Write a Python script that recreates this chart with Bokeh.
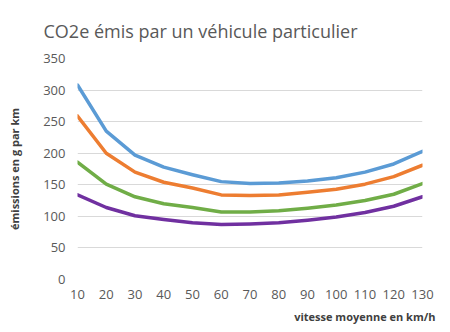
from bokeh.plotting import figure
from bokeh.models import Range1d, FixedTicker, Title
from bokeh.embed import file_html
from bokeh.resources import INLINE

speeds = [10, 20, 30, 40, 50, 60, 70, 80, 90, 100, 110, 120, 130]
serie_bleue = [308, 235, 197, 178, 166, 155, 152, 153, 156, 161, 170, 183, 203]
serie_orange = [259, 200, 170, 154, 145, 134, 133, 134, 138, 143, 151, 163, 181]
serie_verte = [186, 151, 131, 120, 114, 107, 107, 109, 113, 118, 125, 135, 152]
serie_violette = [134, 114, 101, 95, 90, 87, 88, 90, 94, 99, 106, 116, 131]
y_ticks = [0, 50, 100, 150, 200, 250, 300, 350]

FONT = "Open Sans"

p = figure(width=450, height=332, output_backend="svg", toolbar_location=None,
           x_range=Range1d(10, 130), y_range=Range1d(0, 350),
           min_border_left=77, min_border_right=28, min_border_top=0,
           min_border_bottom=53)
p.outline_line_color = None
p.background_fill_color = "white"
p.border_fill_color = "white"

t = Title(text="CO2e émis par un véhicule particulier", text_font=FONT,
          text_font_size="18px", text_font_style="normal", text_color="#595959",
          offset=-34, standoff=32, align="left")
p.add_layout(t, "above")

xt = Title(text="vitesse moyenne en km/h", text_font=FONT, text_font_size="11px",
           text_font_style="bold", text_color="#404040", align="right",
           offset=-13, standoff=10)
p.add_layout(xt, "below")

for vals, col in [(serie_bleue, "#5B9BD5"), (serie_orange, "#ED7D31"),
                  (serie_verte, "#70AD47"), (serie_violette, "#7030A0")]:
    p.line(speeds, vals, line_color=col, line_width=3.5, line_join="round", line_cap="round")

p.xaxis.ticker = FixedTicker(ticks=speeds)
p.yaxis.ticker = FixedTicker(ticks=y_ticks)
for ax in (p.xaxis[0], p.yaxis[0]):
    ax.axis_line_color = None
    ax.major_tick_line_color = None
    ax.minor_tick_line_color = None
    ax.major_label_text_font = FONT
    ax.major_label_text_font_size = "13px"
    ax.major_label_text_color = "#595959"
    ax.axis_label_text_font = FONT
    ax.axis_label_text_font_size = "11px"
    ax.axis_label_text_font_style = "bold"
    ax.axis_label_text_color = "#404040"
p.xaxis.major_label_standoff = 4
p.yaxis.major_label_standoff = 6
p.yaxis.axis_label = "émissions en g par km"
p.yaxis.axis_label_standoff = 18

p.xgrid.grid_line_color = None
p.ygrid.grid_line_color = "#d9d9d9"
p.ygrid.grid_line_width = 1

open("out.html", "w").write(file_html(p, INLINE))
